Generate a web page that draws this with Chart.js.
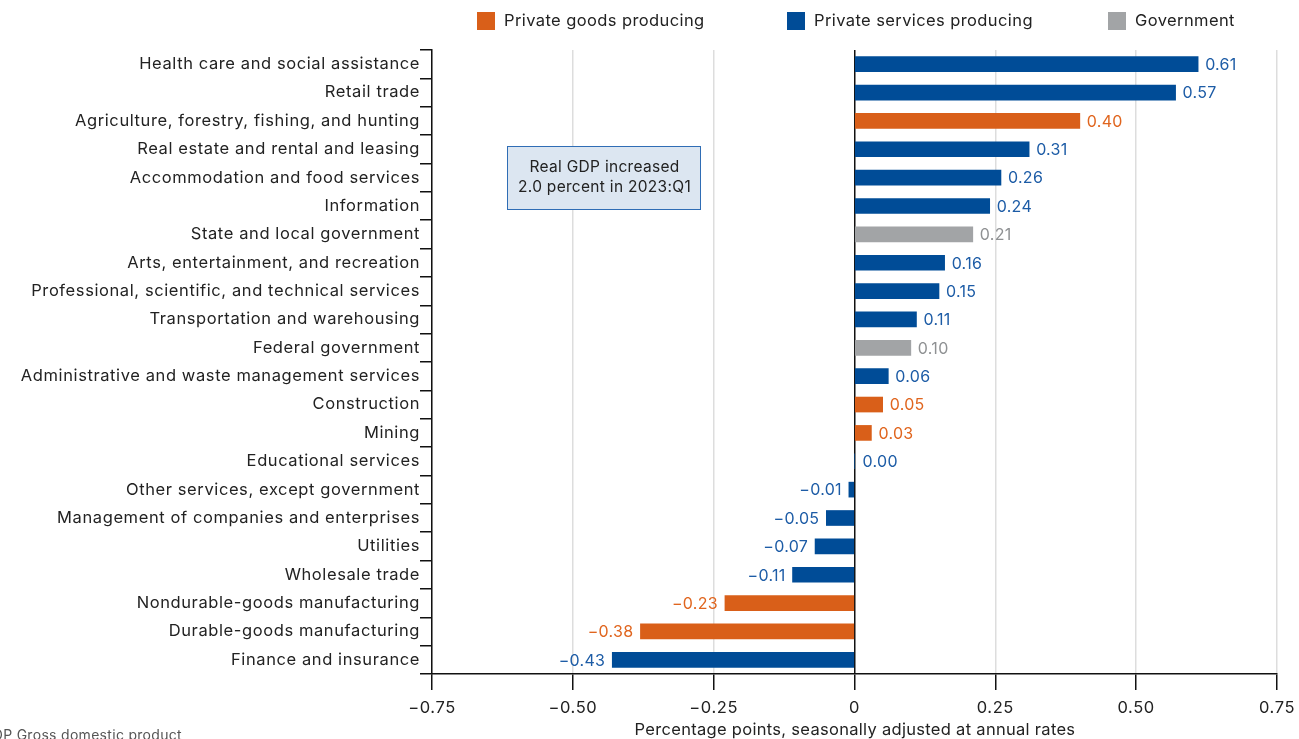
<!DOCTYPE html>
<html>
<head>
<meta charset="utf-8">
<script src="https://cdn.jsdelivr.net/npm/chart.js@4/dist/chart.umd.min.js"></script>
<style>
html,body{margin:0;padding:0;background:#fff;}
#wrap{position:relative;width:1299px;height:739px;}
</style>
</head>
<body>
<div id="wrap"><canvas id="c" width="1299" height="739"></canvas></div>
<script>
const categories = [
  "Health care and social assistance",
  "Retail trade",
  "Agriculture, forestry, fishing, and hunting",
  "Real estate and rental and leasing",
  "Accommodation and food services",
  "Information",
  "State and local government",
  "Arts, entertainment, and recreation",
  "Professional, scientific, and technical services",
  "Transportation and warehousing",
  "Federal government",
  "Administrative and waste management services",
  "Construction",
  "Mining",
  "Educational services",
  "Other services, except government",
  "Management of companies and enterprises",
  "Utilities",
  "Wholesale trade",
  "Nondurable-goods manufacturing",
  "Durable-goods manufacturing",
  "Finance and insurance"
];
const goodsValues = [null,null,0.40,null,null,null,null,null,null,null,null,null,0.05,0.03,null,null,null,null,null,-0.23,-0.38,null];
const servicesValues = [0.61,0.57,null,0.31,0.26,0.24,null,0.16,0.15,0.11,null,0.06,null,null,0.00,-0.01,-0.05,-0.07,-0.11,null,null,-0.43];
const governmentValues = [null,null,null,null,null,null,0.21,null,null,null,0.10,null,null,null,null,null,null,null,null,null,null,null];
const seriesNames = ["Private goods producing","Private services producing","Government"];
const xTickValues = [-0.75,-0.50,-0.25,0,0.25,0.50,0.75];
const xTickLabels = ["\u22120.75","\u22120.50","\u22120.25","0","0.25","0.50","0.75"];
const xTitle = "Percentage points, seasonally adjusted at annual rates";
const noteLines = ["Real GDP increased","2.0 percent in 2023:Q1"];
const footnote = "GDP Gross domestic product";

const FONT = "Inter";
const barColors = ["#D95F19","#004C97","#A2A4A6"];
const labelColors = ["#E0651E","#1D5CA6","#8F9193"];

function fmt(v){
  const s = Math.abs(v).toFixed(2);
  return v < 0 ? "\u2212" + s : s;
}

const labelPlugin = {
  id: "labels",
  beforeDraw(chart){
    chart.ctx.letterSpacing = "0.6px";
  },
  afterDatasetsDraw(chart){
    const ctx = chart.ctx;
    const xs = chart.scales.x;
    ctx.save();
    ctx.letterSpacing = "0.3px";
    ctx.font = "16px " + FONT;
    ctx.textBaseline = "middle";
    chart.data.datasets.forEach((ds, di) => {
      const meta = chart.getDatasetMeta(di);
      ds.data.forEach((v, i) => {
        if (v === null) return;
        const el = meta.data[i];
        const x0 = xs.getPixelForValue(0);
        const xe = xs.getPixelForValue(v);
        ctx.fillStyle = labelColors[di];
        if (v < 0) { ctx.textAlign = "right"; ctx.fillText(fmt(v), xe - 7, el.y + 1); }
        else { ctx.textAlign = "left"; ctx.fillText(fmt(v), (v === 0 ? x0 + 8 : xe + 7), el.y + 1); }
      });
    });
    ctx.restore();
  },
  afterDraw(chart){
    const ctx = chart.ctx;
    const area = chart.chartArea;
    ctx.save();
    // legend
    const legX = [477, 787, 1108];
    ctx.letterSpacing = "0.4px";
    ctx.font = "16.5px " + FONT;
    ctx.textBaseline = "middle";
    ctx.textAlign = "left";
    seriesNames.forEach((n, i) => {
      ctx.fillStyle = barColors[i];
      ctx.fillRect(legX[i], 12, 18, 18);
      ctx.fillStyle = "#222";
      ctx.fillText(n, legX[i] + 27, 21.5);
    });
    // x-axis title
    ctx.letterSpacing = "0.3px";
    ctx.textAlign = "center";
    ctx.fillText(xTitle, (area.left + area.right) / 2 + 0.5, 730.5);
    // annotation box
    const bx = 507, by = 146.5, bw = 193, bh = 63;
    ctx.fillStyle = "#DCE6F1";
    ctx.fillRect(bx, by, bw, bh);
    ctx.strokeStyle = "#2F6DB5";
    ctx.lineWidth = 1;
    ctx.strokeRect(bx + 0.5, by, bw, bh);
    ctx.fillStyle = "#222";
    ctx.font = "15.5px " + FONT;
    ctx.letterSpacing = "0.3px";
    ctx.textAlign = "center";
    ctx.fillText(noteLines[0], bx + bw/2 + 1, by + 21);
    ctx.fillText(noteLines[1], bx + bw/2 + 1, by + 41);
    // footnote
    ctx.font = "14px " + FONT;
    ctx.textAlign = "left";
    ctx.textBaseline = "top";
    ctx.fillStyle = "#555";
    ctx.fillText(footnote, -18, 729);
    ctx.restore();
  }
};

new Chart(document.getElementById("c"), {
  type: "bar",
  data: {
    labels: categories,
    datasets: [
      {label: seriesNames[0], data: goodsValues, backgroundColor: barColors[0], barThickness: 15},
      {label: seriesNames[1], data: servicesValues, backgroundColor: barColors[1], barThickness: 15},
      {label: seriesNames[2], data: governmentValues, backgroundColor: barColors[2], barThickness: 15}
    ]
  },
  options: {
    indexAxis: "y",
    responsive: false,
    animation: false,
    layout: {padding: {top: 50, right: 22, bottom: 0, left: 0}},
    plugins: {legend: {display: false}, tooltip: {enabled: false}},
    scales: {
      x: {
        min: -0.75, max: 0.75,
        stacked: true,
        afterBuildTicks(scale){ scale.ticks = xTickValues.map(v => ({value: v})); },
        afterFit(scale){ scale.height = 65; scale.paddingLeft = 0; scale.paddingRight = 0; },
        ticks: {
          color: "#222", font: {family: FONT, size: 16.5}, padding: 8,
          maxRotation: 0, autoSkip: false,
          callback(v){ const i = xTickValues.indexOf(v); return i >= 0 ? xTickLabels[i] : ""; }
        },
        grid: {
          color: c => (c.tick && c.tick.value === 0) ? "#111" : "#DDDDDD",
          lineWidth: 1.5,
          tickColor: "#111", tickLength: 16, tickWidth: 1.5
        },
        border: {display: true, color: "#111", width: 1.5},
        title: {display: false}
      },
      y: {
        stacked: true,
        afterFit(scale){ scale.width = 432; scale.paddingTop = 0; scale.paddingBottom = 0; },
        ticks: {color: "#222", font: {family: FONT, size: 16.5}, padding: 0, autoSkip: false},
        grid: {drawOnChartArea: false, offset: true, color: "#111", tickLength: 12, lineWidth: 1.5},
        border: {display: true, color: "#111", width: 1.5}
      }
    }
  },
  plugins: [labelPlugin]
});
</script>
</body>
</html>
